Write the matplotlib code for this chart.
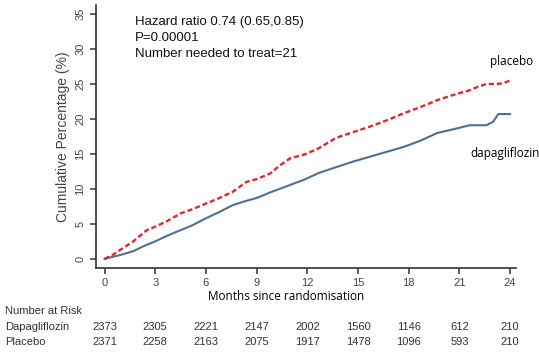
import matplotlib

matplotlib.use("Agg")
import matplotlib.pyplot as plt  # noqa: E402

# cumulative percentage
months_pla = [0, 0.5, 1.0, 1.7, 2.3, 2.5, 3.0, 3.7, 4.5, 5.2, 6.0, 6.8, 7.6, 8.4, 9.0, 9.8,
              10.4, 11.0, 11.8, 12.6, 13.7, 14.7, 15.7, 16.7, 17.7, 18.7, 19.7, 20.6,
              21.6, 22.1, 22.6, 23.2, 23.6, 24.0]
pct_pla = [0, 0.6, 1.4, 2.5, 3.7, 4.1, 4.6, 5.4, 6.5, 7.1, 7.9, 8.7, 9.6, 11.0, 11.4, 12.2,
           13.4, 14.4, 14.9, 15.7, 17.3, 18.1, 18.9, 19.8, 20.8, 21.7, 22.7, 23.4,
           24.1, 24.6, 25.0, 25.0, 25.1, 25.5]
months_dapa = [0, 0.5, 1.0, 1.7, 2.3, 3.0, 3.7, 4.5, 5.2, 6.0, 6.8, 7.6, 8.4, 9.0, 9.8,
               10.8, 11.8, 12.7, 13.7, 14.7, 15.7, 16.7, 17.7, 18.7, 19.7, 20.6, 21.6,
               22.6, 23.0, 23.3, 24.0]
pct_dapa = [0, 0.3, 0.6, 1.1, 1.8, 2.5, 3.3, 4.1, 4.8, 5.8, 6.7, 7.7, 8.3, 8.7, 9.5,
            10.4, 11.3, 12.3, 13.1, 13.9, 14.6, 15.3, 16.0, 16.9, 18.0, 18.5, 19.1,
            19.1, 19.6, 20.7, 20.7]

risk_months = [0, 3, 6, 9, 12, 15, 18, 21, 24]
risk_dapa = [2373, 2305, 2221, 2147, 2002, 1560, 1146, 612, 210]
risk_pla = [2371, 2258, 2163, 2075, 1917, 1478, 1096, 593, 210]

stats_lines = ["Hazard ratio 0.74 (0.65,0.85)", "P=0.00001", "Number needed to treat=21"]

C_PLA = "#e0282e"
C_DAPA = "#4d7096"
SANS = ["Liberation Sans", "DejaVu Sans"]
SOFT = ["Open Sans", "DejaVu Sans"]

fig = plt.figure(figsize=(5.39, 3.52), dpi=100)
ax = fig.add_axes([0.178, 0.239, 0.779, 0.747])

ax.plot(months_dapa, pct_dapa, color=C_DAPA, lw=1.5)
ax.plot(months_pla, pct_pla, color=C_PLA, lw=1.7, ls=(0, (2.2, 1.2)))

ax.set_xlim(-0.51, 24.34)
ax.set_ylim(-1.29, 36.3)
ax.set_xticks(risk_months)
ax.set_yticks(range(0, 36, 5))
for s in ("top", "right"):
    ax.spines[s].set_visible(False)
for s in ("left", "bottom"):
    ax.spines[s].set_color("#333333")
    ax.spines[s].set_linewidth(1.2)
ax.tick_params(length=4, width=1.1, color="#333333", labelsize=8, labelcolor="#444444")
for lab in ax.get_xticklabels() + ax.get_yticklabels():
    lab.set_family(SANS)
for lab in ax.get_yticklabels():
    lab.set_rotation(90)
    lab.set_va("center")

ax.set_ylabel("Cumulative Percentage (%)", family=SANS, fontsize=10, color="#444444",
              labelpad=4)

for i, line in enumerate(stats_lines):
    fig.text(135 / 539, 1 - (22 + 16 * i) / 352, line, family=SANS, fontsize=9.5,
             va="center", color="#111111")
fig.text(490 / 539, 1 - 61 / 352, "placebo", family=SOFT, fontsize=8.5, va="center")
fig.text(470 / 539, 1 - 154 / 352, "dapagliflozin", family=SOFT, fontsize=8.5,
         va="center")
fig.text(286 / 539, 1 - 297 / 352, "Months since randomisation", family=SOFT,
         fontsize=8.5, ha="center", va="center")

# number-at-risk table aligned with the x ticks
fig.text(5 / 539, 1 - 311 / 352, "Number at Risk", family=SANS, fontsize=8,
         color="#333333", va="center")
for row_y, name, vals in [(327, "Dapagliflozin", risk_dapa), (342, "Placebo", risk_pla)]:
    yf = 1 - row_y / 352
    fig.text(5 / 539, yf, name, family=SANS, fontsize=8, color="#333333", va="center")
    for m, v in zip(risk_months, vals):
        xf = fig.transFigure.inverted().transform(ax.transData.transform((m, 0)))[0]
        fig.text(xf, yf, str(v), family=SANS, fontsize=8, color="#333333",
                 ha="center", va="center")

fig.savefig("out.png", dpi=100)
